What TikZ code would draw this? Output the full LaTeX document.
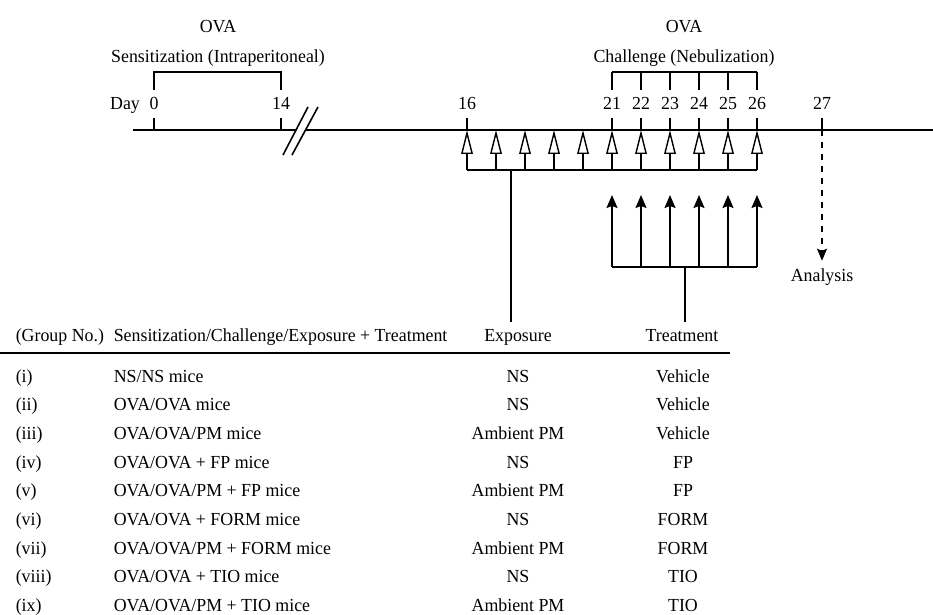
\documentclass[tikz,border=0pt]{standalone}
\usepackage{fontspec}
\setmainfont[FakeStretch=0.97]{Liberation Serif}
\usetikzlibrary{arrows.meta}

\begin{document}
\begin{tikzpicture}[x=0.5pt, y=-0.5pt, font=\fontsize{9.2}{11}\selectfont, line width=0.8pt,
	openarr/.style={-{Triangle[open, length=12pt, width=5.8pt, line width=0.7pt]}},
	fullarr/.style={-{Stealth[length=6.5pt, width=5.5pt, inset=1pt]}},
	dasharr/.style={dashed, -{Stealth[length=6pt, width=5pt, inset=1pt]}},
	cell/.style={anchor=base west, inner sep=0pt},
	ccell/.style={anchor=base}]
	\useasboundingbox (0,0) rectangle (933,615);
	
	% timeline with break
	\coordinate (L) at (133,130);
	\coordinate (B1) at (296,130);
	\coordinate (B2) at (306,130);
	\coordinate (R) at (933,130);
	\draw (L)--(B1);
	\draw (B2)--(R);
	\draw (283,155)--(308,107);
	\draw (292,155)--(318,107);
	
	% sensitization
	\node[ccell] (ova1) at (218,33) {OVA};
	\node[ccell] (sens) at (218,63) {Sensitization (Intraperitoneal)};
	\node[ccell] (day) at (125,110) {Day};
	\foreach \d/\x in {0/154, 14/281} {
		\node[ccell] (d\d) at (\x,110) {\d};
		\coordinate (t\d) at (\x,130);
		\draw (t\d)--++(0,-12);
	}
	\draw (154,90)--(154,72)--(281,72)--(281,90);
	
	% challenge
	\node[ccell] (ova2) at (684,33) {OVA};
	\node[ccell] (chal) at (684,63) {Challenge (Nebulization)};
	\draw (612,72)--(757,72);
	\foreach \i in {0,...,5} {
		\pgfmathtruncatemacro{\dd}{21+\i}
		\coordinate (c\i) at (612+29*\i,72);
		\draw (c\i)--++(0,18);
		\node[ccell] (d\dd) at (612+29*\i,110) {\dd};
	}
	\node[ccell] (d16) at (467,110) {16};
	\node[ccell] (d27) at (822,110) {27};
	
	% exposure arrows
	\foreach \i in {0,...,10} {
		\coordinate (e\i) at (467+29*\i,170);
		\draw[openarr] (e\i)--++(0,-40);
	}
	\foreach \x in {467,612,641,670,699,728,757,822}
		\draw (\x,118)--(\x,130);
	\draw (e0)--(e10);
	
	% treatment arrows
	\foreach \i in {0,...,5} {
		\coordinate (r\i) at (612+29*\i,267);
		\draw[fullarr] (r\i)--++(0,-72);
	}
	\draw (r0)--(r5);
	
	% analysis
	\coordinate (a0) at (822,130);
	\node[ccell] (ana) at (822,281) {Analysis};
	\draw[dasharr] (a0)--(ana.north);
	
	% table
	\node[cell] (hgrp) at (15,342) {(Group No.)};
	\node[cell] (hsct) at (113,342) {Sensitization/Challenge/Exposure + Treatment};
	\node[ccell] (hexp) at (518,342) {Exposure};
	\node[ccell] (htrt) at (682,342) {Treatment};
	\coordinate (estem) at (511,170);
	\coordinate (tstem) at (685,267);
	\draw (estem)--(estem |- hexp.north);
	\draw (tstem)--(tstem |- htrt.north);
	\draw (0,353)--(730,353);
	
	\foreach \g/\s/\e/\t [count=\k from 0] in {
		(i)/NS\slash NS mice/NS/Vehicle,
		(ii)/OVA\slash OVA mice/NS/Vehicle,
		(iii)/OVA\slash OVA\slash PM mice/Ambient PM/Vehicle,
		(iv)/OVA\slash OVA + FP mice/NS/FP,
		(v)/OVA\slash OVA\slash PM + FP mice/Ambient PM/FP,
		(vi)/OVA\slash OVA + FORM mice/NS/FORM,
		(vii)/OVA\slash OVA\slash PM + FORM mice/Ambient PM/FORM,
		(viii)/OVA\slash OVA + TIO mice/NS/TIO,
		(ix)/OVA\slash OVA\slash PM + TIO mice/Ambient PM/TIO} {
		\node[cell] (g\k) at (15,382+28.7*\k) {\g};
		\node[cell] (s\k) at (113,382+28.7*\k) {\s};
		\node[ccell] (x\k) at (518,382+28.7*\k) {\e};
		\node[ccell] (m\k) at (683,382+28.7*\k) {\t};
	}
\end{tikzpicture}
\end{document}
